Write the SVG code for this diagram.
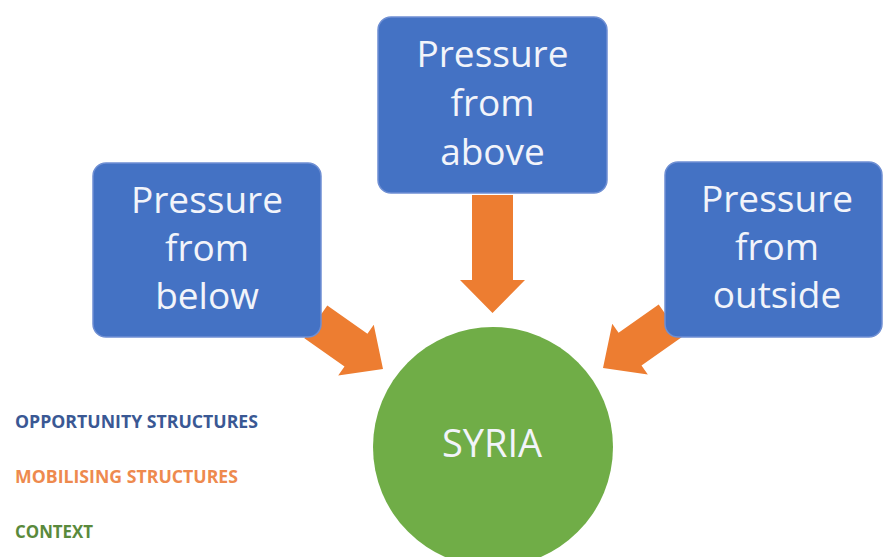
<svg xmlns="http://www.w3.org/2000/svg" width="883" height="557" viewBox="0 0 883 557">
<style>
.box{fill:#4472C4;stroke:#6F8FD3;stroke-width:1.5}
.arrow{fill:#ED7D31}
.lbl{font-family:"Open Sans","Noto Sans",sans-serif;font-size:37px;fill:#F2F4FA;text-anchor:middle}
.leg{font-family:"Open Sans","Noto Sans",sans-serif;font-size:18px;font-weight:bold}
</style>
<defs>
<polygon id="diag" points="-82,-20 -33,-20 -33,-31 0,0 -33,31 -33,20 -82,20"/>
</defs>
<rect width="883" height="557" fill="#FFFFFF"/>
<g id="connectors">
<polygon class="arrow" points="472,195 513,195 513,280 525,280 492.5,313 460,280 472,280"/>
<use href="#diag" class="arrow" transform="translate(383,369) rotate(35)"/>
<use href="#diag" class="arrow" transform="translate(603,368) rotate(145)"/>
</g>
<g id="node-below">
<rect class="box" x="93" y="163" width="228" height="174" rx="13"/>
<text class="lbl" x="207" y="213">Pressure</text>
<text class="lbl" x="207" y="261">from</text>
<text class="lbl" x="207" y="309">below</text>
</g>
<g id="node-above">
<rect class="box" x="378" y="17" width="229" height="176" rx="13"/>
<text class="lbl" x="492.5" y="67">Pressure</text>
<text class="lbl" x="492.5" y="116">from</text>
<text class="lbl" x="492.5" y="165">above</text>
</g>
<g id="node-outside">
<rect class="box" x="665" y="162" width="217" height="175" rx="13"/>
<text class="lbl" x="777" y="212">Pressure</text>
<text class="lbl" x="777" y="260">from</text>
<text class="lbl" x="777" y="308">outside</text>
</g>
<g id="node-syria">
<circle cx="493" cy="447" r="120" fill="#70AD47"/>
<text class="lbl" x="492" y="457" style="font-size:38px">SYRIA</text>
</g>
<g id="legend">
<text class="leg" x="15" y="428" fill="#3A5894" textLength="243" lengthAdjust="spacingAndGlyphs">OPPORTUNITY STRUCTURES</text>
<text class="leg" x="15" y="483" fill="#EE8A4E" textLength="223" lengthAdjust="spacingAndGlyphs">MOBILISING STRUCTURES</text>
<text class="leg" x="15" y="538" fill="#5A8A3C" textLength="78" lengthAdjust="spacingAndGlyphs">CONTEXT</text>
</g>
</svg>
